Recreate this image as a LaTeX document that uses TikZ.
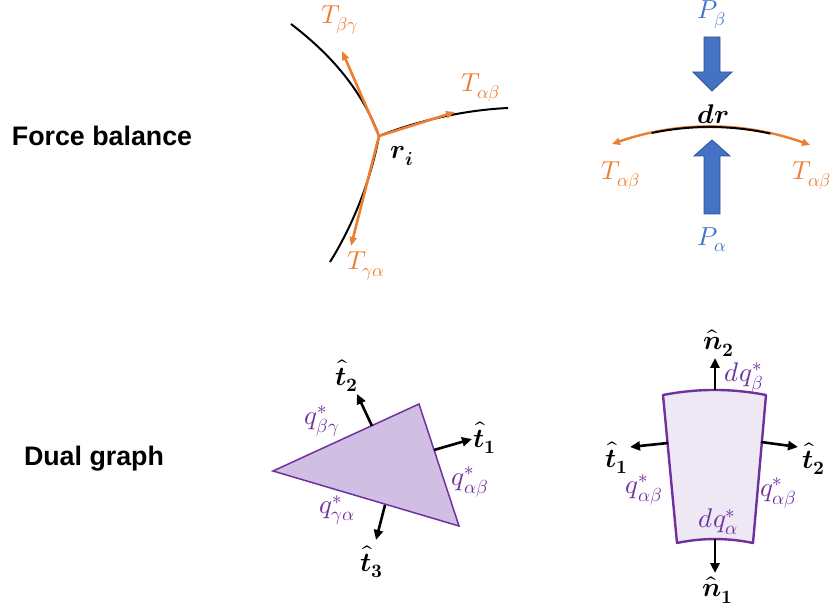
\documentclass[tikz,border=0pt]{standalone}
\usepackage{fontspec}
\usepackage{unicode-math}
\setmainfont{Liberation Sans}
\setmathfont{Latin Modern Math}
\usetikzlibrary{arrows.meta}
\definecolor{forange}{HTML}{ED7D31}
\definecolor{fblue}{HTML}{4472C4}
\definecolor{fbluedark}{HTML}{2F528F}
\definecolor{fpurple}{HTML}{7030A0}
\definecolor{trifill}{HTML}{D1BFE3}
\definecolor{quadfill}{HTML}{EEE8F5}
\tikzset{
  headtext/.style={font=\bfseries\fontsize{26.8}{32}\selectfont, anchor=center},
  lbl/.style={font=\fontsize{26}{30}\selectfont, inner sep=0pt},
  olbl/.style={lbl, text=forange},
  blbl/.style={lbl, text=fblue},
  plbl/.style={lbl, text=fpurple, font=\fontsize{27}{31}\selectfont},
  klbl/.style={lbl, text=black, font=\fontsize{27}{31}\selectfont},
  wallline/.style={draw=black, line width=2pt},
  tensarrow/.style={draw=forange, line width=2.6pt, -{Triangle[length=9pt,width=7pt]}},
  normarrow/.style={draw=black, line width=2.6pt, -{Triangle[length=10pt,width=9pt]}},
  blockarrow/.style={fill=fblue, draw=fbluedark, line width=0.8pt},
}
\begin{document}
\begin{tikzpicture}[x=1pt,y=-1pt]
\useasboundingbox (0,0) rectangle (833,609);
% headings
\node[headtext] (fb) at (102,136) {Force balance};
\node[headtext] (dg) at (94,459) {Dual graph};

% ---------- junction ----------
\coordinate (J) at (379,136);
\coordinate (ul) at (291,24);
\coordinate (rt) at (508,108);
\coordinate (lo) at (330,262);
\draw[wallline] (ul) .. controls (325,50) and (360,85) .. (J);
\draw[wallline] (J) .. controls (420,120) and (465,110) .. (rt);
\draw[wallline] (J) .. controls (372,175) and (355,222) .. (lo);
\coordinate (tbg) at (342,51);
\coordinate (tab) at (455,112);
\coordinate (tga) at (351,246);
\draw[tensarrow] (J) -- (tbg);
\draw[tensarrow] (J) -- (tab);
\draw[tensarrow] (J) -- (tga);
\node[olbl] (Lbg) at (340,20) {$T_{\beta\gamma}$};
\node[olbl] (Lab) at (481,88) {$T_{\alpha\beta}$};
\node[olbl] (Lga) at (366,266) {$T_{\gamma\alpha}$};
\node[klbl] (ri) at (402,156) {$\symbfit{r}_{\symbfit{i}}$};

% ---------- dr element ----------
\coordinate (dl) at (612,144);
\coordinate (dr) at (810,145);
\coordinate (bl) at (651.6,133);
\coordinate (br) at (770.4,133.6);
\draw[draw=forange, line width=2.4pt, {Triangle[length=8pt,width=7pt]}-{Triangle[length=8pt,width=7pt]}]
  (dl) .. controls (678,121) and (744,121.3) .. (dr);
\draw[wallline] (bl) .. controls (691.2,124.8) and (730.8,125) .. (br);
\node[klbl] (drl) at (713,114) {$\symbfit{dr}$};
\node[olbl] (tl) at (621,176) {$T_{\alpha\beta}$};
\node[olbl] (tr) at (812,176) {$T_{\alpha\beta}$};
% block arrows
\draw[blockarrow] (704,37) -- (720,37) -- (720,72) -- (732,72) -- (712,91) -- (693,72) -- (704,72) -- cycle;
\draw[blockarrow] (704,214) -- (720,214) -- (720,156) -- (730,156) -- (712,140) -- (694,156) -- (704,156) -- cycle;
\node[blbl, anchor=north] (Pb) at (712,1) {$P_{\beta}$};
\node[blbl] (Pa) at (712,240) {$P_{\alpha}$};

% ---------- triangle ----------
\coordinate (A) at (273,471);
\coordinate (B) at (419,404);
\coordinate (C) at (459,526);
\draw[fill=trifill, draw=fpurple, line width=1.5pt] (A) -- (B) -- (C) -- cycle;
\coordinate (e2) at (372,426); \coordinate (h2) at (357,394);
\coordinate (e1) at (434,450); \coordinate (h1) at (472,439);
\coordinate (e3) at (385,505); \coordinate (h3) at (376,540);
\draw[normarrow] (e2) -- (h2);
\draw[normarrow] (e1) -- (h1);
\draw[normarrow] (e3) -- (h3);
\node[klbl] (t2) at (347,376) {$\hat{\symbfit{t}}_{\symbf{2}}$};
\node[klbl] (t1) at (485,438) {$\hat{\symbfit{t}}_{\symbf{1}}$};
\node[klbl] (t3) at (372,562) {$\hat{\symbfit{t}}_{\symbf{3}}$};
\node[plbl] (qbg) at (322,421) {$q^*_{\beta\gamma}$};
\node[plbl] (qab) at (470,482) {$q^*_{\alpha\beta}$};
\node[plbl] (qga) at (337,510) {$q^*_{\gamma\alpha}$};

% ---------- quad element ----------
\coordinate (TL) at (663,395);
\coordinate (TR) at (766,395);
\coordinate (BR) at (753,543);
\coordinate (BL) at (677,543);
\draw[fill=quadfill, draw=fpurple, line width=2.4pt, line join=round]
  (TL) .. controls (697.3,388.3) and (731.7,388.3) .. (TR) -- (BR)
  .. controls (727.7,537.7) and (702.3,537.7) .. (BL) -- cycle;
\coordinate (n2s) at (715,390); \coordinate (n2e) at (715,358);
\coordinate (n1s) at (715,539); \coordinate (n1e) at (715,573);
\coordinate (q1s) at (668,443); \coordinate (q1e) at (630,447);
\coordinate (q2s) at (761,442); \coordinate (q2e) at (798,447);
\draw[normarrow] (n2s) -- (n2e);
\draw[normarrow] (n1s) -- (n1e);
\draw[normarrow] (q1s) -- (q1e);
\draw[normarrow] (q2s) -- (q2e);
\node[klbl] (n2) at (719,343) {$\hat{\symbfit{n}}_{\symbf{2}}$};
\node[klbl] (n1) at (718,590) {$\hat{\symbfit{n}}_{\symbf{1}}$};
\node[klbl] (qt1) at (617,458) {$\hat{\symbfit{t}}_{\symbf{1}}$};
\node[klbl] (qt2) at (814,459) {$\hat{\symbfit{t}}_{\symbf{2}}$};
\node[plbl] (dqb) at (744,378) {$dq^*_{\beta}$};
\node[plbl] (dqa) at (718,522) {$dq^*_{\alpha}$};
\node[plbl] (qL) at (644,490) {$q^*_{\alpha\beta}$};
\node[plbl] (qR) at (778,493) {$q^*_{\alpha\beta}$};
\end{tikzpicture}
\end{document}
